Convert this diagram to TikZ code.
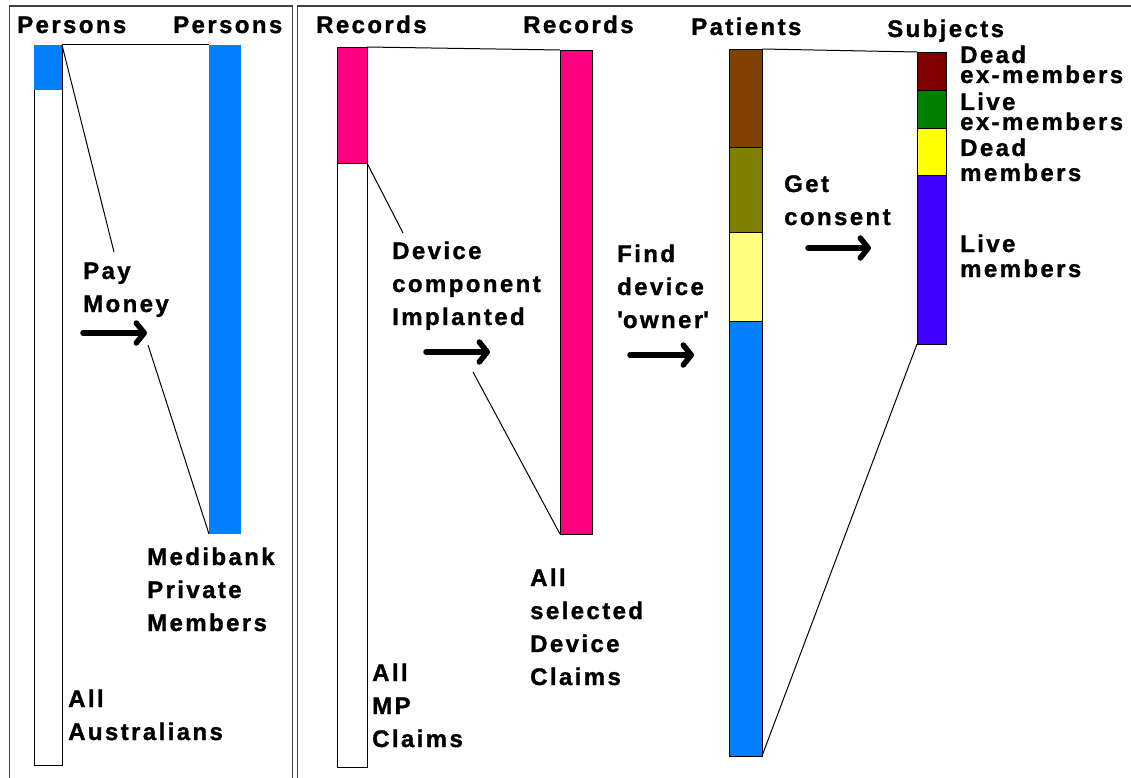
\documentclass[tikz,border=0pt]{standalone}
\usepackage{fontspec}
\setmainfont{Liberation Sans}[BoldFont={Liberation Sans Bold}, BoldFeatures={FakeBold=1.2}, LetterSpace=10]
\usetikzlibrary{arrows.meta}
\definecolor{mblue}{HTML}{0080FF}
\definecolor{mpink}{HTML}{FF0080}
\definecolor{mbrown}{HTML}{804000}
\definecolor{molive}{HTML}{808000}
\definecolor{mlyellow}{HTML}{FFFF80}
\definecolor{myellow}{HTML}{FFFF00}
\definecolor{mdred}{HTML}{800000}
\definecolor{mgreen}{HTML}{008000}
\definecolor{mviolet}{HTML}{4000FF}
\begin{document}
\begin{tikzpicture}[x=1pt,y=-1pt,
  lab/.style={font=\fontsize{24}{33}\selectfont\bfseries, align=left, anchor=base west, inner sep=0pt},
  tight/.style={font=\fontsize{24}{20}\selectfont\bfseries},
  mid/.style={font=\fontsize{24}{25}\selectfont\bfseries},
  barbox/.style={draw=black, line width=0.8pt, inner sep=0pt, outer sep=0pt, anchor=north west},
  seg/.style={draw=black, line width=0.8pt},
  conn/.style={black, line width=1pt},
  bigarrow/.style={line width=5.5pt, line cap=round, -{Straight Barb[length=8pt,width=20pt,line cap=round,line join=round]}}]
\useasboundingbox (0,0) rectangle (1131,778);
\begin{scope}
\clip (0,0) rectangle (1131,778);
\draw[line width=1.2pt, black!75] (9.5,6) rectangle (292.5,800);
\draw[line width=1.2pt, black!75] (297.5,6) rectangle (1140,800);
\end{scope}
% ---------- left panel
\node[barbox, fill=white, minimum width=28pt, minimum height=720pt] (aus) at (34,45) {};
\fill[mblue] (34,45) rectangle (62,90);
\node[barbox, draw=none, fill=mblue, minimum width=32pt, minimum height=489pt] (mpm) at (209,45) {};
\coordinate (g1a) at (114,252);
\coordinate (g1b) at (148,345);
\draw[conn] (aus.north east) -- (mpm.north west);
\draw[conn] (aus.north east) -- (g1a);
\draw[conn] (g1b) -- (mpm.south west);
\node[lab] (persL) at (17,33) {Persons};
\node[lab] (persR) at (173,33) {Persons};
\node[lab] (pay) at (83,312) {Pay\\Money};
\node[lab] (mpmL) at (147,631) {Medibank\\Private\\Members};
\node[lab] (ausL) at (68,740) {All\\Australians};
\coordinate (a1s) at (83,333);
\coordinate (a1e) at (147,333);
\draw[bigarrow] (a1s) -- (a1e);
% ---------- middle panel
\node[barbox, fill=white, minimum width=30pt, minimum height=720pt] (mp) at (337,47) {};
\filldraw[seg, fill=mpink] (337,47) rectangle (367,163);
\coordinate (mpcut) at (367,163);
\node[barbox, fill=mpink, minimum width=32pt, minimum height=484pt] (dev) at (560,50) {};
\coordinate (g2a) at (403,233);
\coordinate (g2b) at (473,372);
\draw[conn] (mp.north east) -- (dev.north west);
\draw[conn] (mpcut) -- (g2a);
\draw[conn] (g2b) -- (dev.south west);
\node[lab] (recL) at (316,33) {Records};
\node[lab] (recR) at (523,33) {Records};
\node[lab] (devL) at (392,325) {Device\\component\\Implanted};
\node[lab] (mpL) at (372,747) {All\\MP\\Claims};
\node[lab] (devC) at (530,685) {All\\selected\\Device\\Claims};
\coordinate (a2s) at (426,352);
\coordinate (a2e) at (490,352);
\draw[bigarrow] (a2s) -- (a2e);
% ---------- patients / subjects
\node[barbox, minimum width=33pt, minimum height=707pt] (pat) at (729,49) {};
\filldraw[seg, fill=mbrown] (729,49) rectangle (762,147);
\filldraw[seg, fill=molive] (729,147) rectangle (762,232);
\filldraw[seg, fill=mlyellow] (729,232) rectangle (762,321);
\filldraw[seg, fill=mblue] (729,321) rectangle (762,756);
\node[barbox, minimum width=29pt, minimum height=292pt] (subj) at (917,52) {};
\filldraw[seg, fill=mdred] (917,52) rectangle (946,90);
\filldraw[seg, fill=mgreen] (917,90) rectangle (946,128);
\filldraw[seg, fill=myellow] (917,128) rectangle (946,175);
\filldraw[seg, fill=mviolet] (917,175) rectangle (946,344);
\draw[conn] (pat.north east) -- (subj.north west);
\draw[conn] (pat.south east) -- (subj.south west);
\node[lab] (patL) at (691,35) {Patients};
\node[lab] (subjL) at (887,37) {Subjects};
\node[lab] (findL) at (617,328) {Find\\device\\\textquotesingle owner\textquotesingle};
\node[lab] (getL) at (784,225) {Get\\consent};
\coordinate (a3s) at (630,355);
\coordinate (a3e) at (694,355);
\draw[bigarrow] (a3s) -- (a3e);
\coordinate (a4s) at (808,248);
\coordinate (a4e) at (871,248);
\draw[bigarrow] (a4s) -- (a4e);
\node[lab, tight] (dexL) at (960,83) {Dead\\ex-members};
\node[lab, tight] (lexL) at (960,130) {Live\\ex-members};
\node[lab, mid] (dmL) at (960,181) {Dead\\members};
\node[lab, mid] (lmL) at (960,277) {Live\\members};
\end{tikzpicture}
\end{document}
